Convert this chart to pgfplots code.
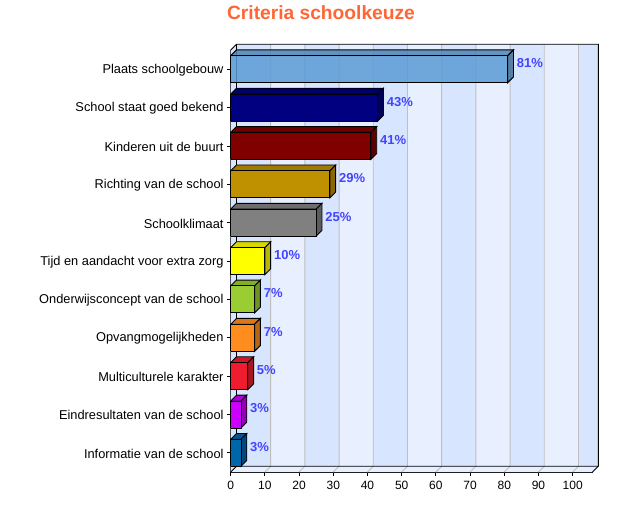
\documentclass[border=0pt]{standalone}
\usepackage{pgfplots}
\pgfplotsset{compat=1.18}
\usepackage{fontspec}
\setmainfont{Liberation Sans}
\definecolor{bandA}{HTML}{D7E5FF}
\definecolor{bandB}{HTML}{E8F0FF}
\definecolor{gridg}{HTML}{BEBEBE}
\definecolor{vallab}{HTML}{4444FF}
\definecolor{ttl}{HTML}{FF6633}
\definecolor{c1}{HTML}{5B9BD5}
\definecolor{c2}{HTML}{000080}
\definecolor{c3}{HTML}{800000}
\definecolor{c4}{HTML}{BF9000}
\definecolor{c5}{HTML}{808080}
\definecolor{c6}{HTML}{FFFF00}
\definecolor{c7}{HTML}{9ACD32}
\definecolor{c8}{HTML}{FF8C1E}
\definecolor{c9}{HTML}{EE1C2E}
\definecolor{c10}{HTML}{CC00FF}
\definecolor{c11}{HTML}{0066AA}
\newcommand{\ddx}{1.696}
\newcommand{\ddy}{0.151}
% #1 y position, #2 value, #3 colour, #4 opacity
\newcommand{\threedbar}[4]{%
  \pgfmathsetmacro{\yb}{#1+0.352}%
  \pgfmathsetmacro{\yl}{#1-0.352}%
  \pgfmathsetmacro{\ybb}{#1+0.352+\ddy}%
  \pgfmathsetmacro{\ylb}{#1-0.352+\ddy}%
  \pgfmathsetmacro{\xb}{#2+\ddx}%
  \addplot[forget plot,draw=black,line width=0.9pt,fill=#3!85!black,fill opacity=#4,line join=miter]
    coordinates {(0,\yb) (#2,\yb) (\xb,\ybb) (\ddx,\ybb) (0,\yb)};
  \addplot[forget plot,draw=black,line width=0.9pt,fill=#3!72!black,fill opacity=#4,line join=miter]
    coordinates {(#2,\yb) (\xb,\ybb) (\xb,\ylb) (#2,\yl) (#2,\yb)};
  \addplot[forget plot,draw=black,line width=0.9pt,fill=#3,fill opacity=#4,line join=miter]
    coordinates {(0,\yl) (#2,\yl) (#2,\yb) (0,\yb) (0,\yl)};
}
\begin{document}
\begin{tikzpicture}
\path[use as bounding box] (-230.7pt,-50pt) rectangle (411.3pt,472pt);
\begin{axis}[
  at={(0pt,0pt)},anchor=south west,
  scale only axis,width=361.8pt,height=422pt,
  xmin=0,xmax=105.8,ymin=0,ymax=11,
  clip=false,
  axis lines=left,
  axis line style={-,black,line width=0.9pt},
  tick style={black,line width=0.8pt},
  major tick length=4pt,
  tick align=outside,
  xtick={0,10,...,100},
  ytick={0.5,1.5,2.5,3.5,4.5,5.5,6.5,7.5,8.5,9.5,10.5},
  yticklabels={Informatie van de school,Eindresultaten van de school,Multiculturele karakter,Opvangmogelijkheden,Onderwijsconcept van de school,Tijd en aandacht voor extra zorg,Schoolklimaat,Richting van de school,Kinderen uit de buurt,School staat goed bekend,Plaats schoolgebouw},
  /pgf/number format/assume math mode=true,
  tick label style={black},
  y tick label style={font=\fontsize{12.8}{14}\selectfont,inner sep=0pt,xshift=-3pt,yshift=-0.8pt},
  x tick label style={font=\fontsize{12}{14}\selectfont,inner sep=0pt,yshift=-5pt},
]
% walls
\fill[bandB] (axis cs:0,0) -- (axis cs:105.8,0) -- (axis cs:107.496,0.151) -- (axis cs:1.696,0.151) -- cycle;
\fill[bandA] (axis cs:0,0) -- (axis cs:1.696,0.151) -- (axis cs:1.696,11.151) -- (axis cs:0,11) -- cycle;
\fill[bandA] (axis cs:1.696,0.151) rectangle (axis cs:107.496,11.151);
\foreach \a in {10,30,50,70,90}{
  \edef\tmp{\noexpand\fill[bandB] (axis cs:\a+1.696,0.151) rectangle (axis cs:\a+11.696,11.151);}\tmp
}
\foreach \a in {10,20,...,100}{
  \edef\tmp{\noexpand\draw[gridg,line width=0.9pt] (axis cs:\a,0) -- (axis cs:\a+1.696,0.151) -- (axis cs:\a+1.696,11.151);}\tmp
}
\draw[black,line width=0.9pt] (axis cs:0,0) -- (axis cs:1.696,0.151) -- (axis cs:107.496,0.151);
\draw[black,line width=0.9pt] (axis cs:0,11) -- (axis cs:1.696,11.151) -- (axis cs:107.496,11.151) -- (axis cs:107.496,0.151) -- (axis cs:105.8,0);
\draw[black,line width=0.9pt] (axis cs:1.696,0.151) -- (axis cs:1.696,11.151);
% bars
\threedbar{10.5}{81}{c1}{0.85}
\threedbar{9.5}{43}{c2}{1}
\threedbar{8.5}{41}{c3}{1}
\threedbar{7.5}{29}{c4}{1}
\threedbar{6.5}{25}{c5}{1}
\threedbar{5.5}{10}{c6}{1}
\threedbar{4.5}{7}{c7}{1}
\threedbar{3.5}{7}{c8}{1}
\threedbar{2.5}{5}{c9}{1}
\threedbar{1.5}{3}{c10}{1}
\threedbar{0.5}{3}{c11}{1}
% value labels
\addplot[forget plot,only marks,mark size=0pt,point meta=explicit symbolic,
  nodes near coords,
  nodes near coords align={anchor=west},
  every node near coord/.append style={inner sep=0pt,xshift=9pt,yshift=6pt,text=vallab,font=\fontsize{13}{14}\selectfont\bfseries}]
  coordinates {
   (81,10.5)[81\%] (43,9.5)[43\%] (41,8.5)[41\%] (29,7.5)[29\%] (25,6.5)[25\%]
   (10,5.5)[10\%] (7,4.5)[7\%] (7,3.5)[7\%] (5,2.5)[5\%] (3,1.5)[3\%] (3,0.5)[3\%]};
\end{axis}
\node[text=ttl,font=\fontsize{19.2}{21}\selectfont\bfseries,inner sep=0pt] at (90.3pt,459pt) {Criteria schoolkeuze};
\end{tikzpicture}
\end{document}
